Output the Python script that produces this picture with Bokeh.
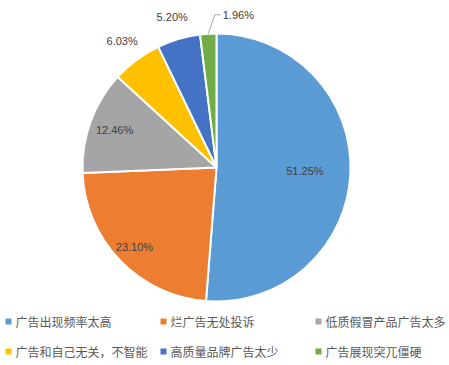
import math
from bokeh.plotting import figure
from bokeh.models import Range1d, ColumnDataSource
from bokeh.core.properties import value
from bokeh.embed import file_html
from bokeh.resources import INLINE

# ---- data ----
categories = ["广告出现频率太高", "烂广告无处投诉", "低质假冒产品广告太多",
              "广告和自己无关，不智能", "高质量品牌广告太少", "广告展现突兀僵硬"]
shares = [51.25, 23.10, 12.46, 6.03, 5.20, 1.96]
pct_labels = ["51.25%", "23.10%", "12.46%", "6.03%", "5.20%", "1.96%"]
colors = ["#5B9BD5", "#ED7D31", "#A5A5A5", "#FFC000", "#4472C4", "#70AD47"]

# ---- layout ----
W, H = 449, 365
cx, cy, R = 216, 198, 134
label_r = [0.66, 0.85, 0.81, 1.18, 1.17, None]

p = figure(width=W, height=H, output_backend="svg", toolbar_location=None,
           x_range=Range1d(0, W), y_range=Range1d(0, H),
           min_border=0, outline_line_color=None)
p.axis.visible = False
p.grid.visible = False
p.background_fill_color = "white"
p.border_fill_color = "white"

total = sum(shares)
starts, ends, mids = [], [], []
cum = 0.0
for s in shares:
    a0 = cum / total
    cum += s
    a1 = cum / total
    starts.append(math.pi / 2 - 2 * math.pi * a0)
    ends.append(math.pi / 2 - 2 * math.pi * a1)
    mids.append(2 * math.pi * (a0 + a1) / 2)  # clockwise from top

src = ColumnDataSource(dict(start=starts, end=ends, color=colors))
p.wedge(x=cx, y=cy, radius=R, start_angle="start", end_angle="end",
        direction="clock", fill_color="color", line_color="white",
        line_width=2, source=src)

# percentage labels
lx, ly, lt = [], [], []
for i, t in enumerate(pct_labels):
    if label_r[i] is None:
        continue
    lx.append(cx + R * label_r[i] * math.sin(mids[i]))
    ly.append(cy + R * label_r[i] * math.cos(mids[i]))
    lt.append(t)
p.text(x=lx, y=ly, text=lt, text_font=value("Liberation Sans"),
       text_font_size="11px", text_color="#404040",
       text_align="center", text_baseline="middle")

# leader line for the smallest slice
th = mids[5]
sx, sy = cx + R * math.sin(th), cy + R * math.cos(th)
ex, ey = sx + 6.5, sy + 19
p.line(x=[sx, ex, ex + 6], y=[sy, ey, ey], line_color="#A6A6A6", line_width=1)
p.text(x=[ex + 8], y=[ey], text=[pct_labels[5]], text_font=value("Liberation Sans"),
       text_font_size="11px", text_color="#404040",
       text_align="left", text_baseline="middle")

# legend
col_x = [8, 163, 318]
row_y = [44, 14]
sqx, sqy, tx, ty = [], [], [], []
for i, c in enumerate(categories):
    r, k = divmod(i, 3)
    sqx.append(col_x[k])
    sqy.append(row_y[r])
    tx.append(col_x[k] + 7)
    ty.append(row_y[r])
p.rect(x=sqx, y=sqy, width=6, height=6, fill_color=colors, line_color=None)
p.text(x=tx, y=ty, text=categories, text_font=value("Noto Sans CJK SC"),
       text_font_size="12px", text_color="#595959",
       text_align="left", text_baseline="middle")

open("out.html", "w").write(file_html(p, INLINE))
